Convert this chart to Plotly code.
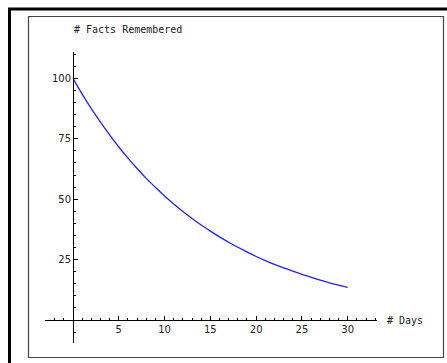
import plotly.graph_objects as go

days = list(range(0, 31))
facts = [100, 93.5, 87.5, 81.9, 76.6, 71.6, 67.0, 62.7, 58.6, 54.9, 51.3,
         48.0, 44.9, 42.0, 39.3, 36.8, 34.4, 32.2, 30.1, 28.2, 26.3,
         24.6, 23.0, 21.6, 20.2, 18.9, 17.7, 16.5, 15.4, 14.4, 13.5]
x_ticks = [5, 10, 15, 20, 25, 30]
y_ticks = [25, 50, 75, 100]
x_label = "# Days"
y_label = "# Facts Remembered"

W, H = 447, 363
ml, mr, mt, mb = 45, 70, 52, 20
pw, ph = W - ml - mr, H - mt - mb
xr = [-3.06, 33.2]
yr = [-9.5, 110.9]

def px(p):
    return (p - ml) / pw

def py(p):
    return (H - mb - p) / ph

fig = go.Figure()
fig.add_trace(go.Scatter(x=days, y=facts, mode="lines",
                         line=dict(color="#2222ff", width=1.3, shape="spline"),
                         hoverinfo="skip", showlegend=False))

tickfont = dict(family="DejaVu Sans", size=10, color="#222")
fig.update_layout(
    width=W, height=H,
    margin=dict(l=ml, r=mr, t=mt, b=mb, pad=0),
    paper_bgcolor="white", plot_bgcolor="white",
    xaxis=dict(range=xr, anchor="free",
               position=(0 - yr[0]) / (yr[1] - yr[0]),
               showline=True, linecolor="black", linewidth=1,
               zeroline=False, showgrid=False,
               tickmode="array", tickvals=x_ticks,
               ticks="inside", ticklen=4, tickcolor="black", tickwidth=1,
               tickfont=tickfont,
               minor=dict(dtick=1, tick0=0, ticks="inside", ticklen=2,
                          tickcolor="black", showgrid=False)),
    yaxis=dict(range=yr, anchor="free",
               position=(0 - xr[0]) / (xr[1] - xr[0]),
               showline=True, linecolor="black", linewidth=1,
               zeroline=False, showgrid=False,
               tickmode="array", tickvals=y_ticks,
               ticks="inside", ticklen=4, tickcolor="black", tickwidth=1,
               tickfont=tickfont,
               minor=dict(dtick=5, tick0=0, ticks="inside", ticklen=2,
                          tickcolor="black", showgrid=False)),
    font=dict(family="DejaVu Sans Mono", size=10, color="#222"),
)

fig.add_annotation(text=y_label, xref="paper", yref="paper",
                   x=px(72), y=py(29), xanchor="left", yanchor="middle",
                   showarrow=False, font=dict(family="DejaVu Sans Mono", size=10))
fig.add_annotation(text=x_label, xref="paper", yref="paper",
                   x=px(385), y=py(320), xanchor="left", yanchor="middle",
                   showarrow=False, font=dict(family="DejaVu Sans Mono", size=10))

# outer and inner frames
fig.add_shape(type="rect", xref="paper", yref="paper",
              x0=px(9.5), x1=px(480), y0=py(9), y1=py(400),
              line=dict(color="black", width=3), layer="below")
fig.add_shape(type="rect", xref="paper", yref="paper",
              x0=px(28.5), x1=px(443.5), y0=py(16.5), y1=py(357.5),
              line=dict(color="#444", width=1.2), layer="below")

fig.write_html(
    "out.html",
    config={"displayModeBar": False},
    post_script="document.documentElement.style.overflow='hidden';"
                "document.body.style.overflow='hidden';"
                "document.body.style.margin='0px';",
)
